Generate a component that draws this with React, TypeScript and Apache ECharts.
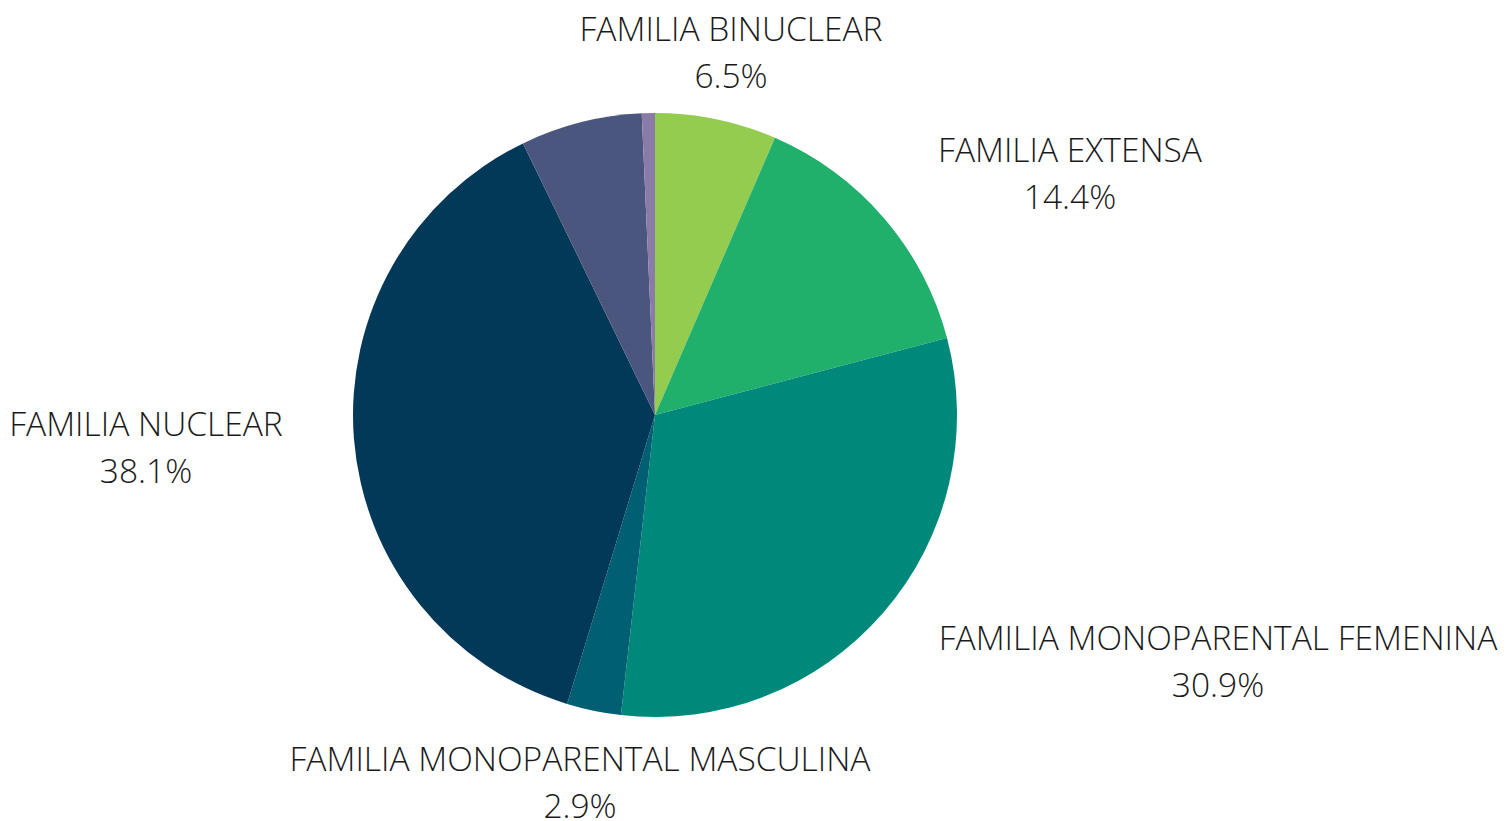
import React, { useEffect, useRef } from "react";
import * as echarts from "echarts";

const categories = [
  "FAMILIA BINUCLEAR",
  "FAMILIA EXTENSA",
  "FAMILIA MONOPARENTAL FEMENINA",
  "FAMILIA MONOPARENTAL MASCULINA",
  "FAMILIA NUCLEAR",
  "OTRO TIPO",
  "SIN INFORMACIÓN",
];
const values = [6.5, 14.4, 30.9, 2.9, 38.1, 6.5, 0.7];
const showLabel = [true, true, true, true, true, false, false];
const colors = ["#94CC50", "#21AF6C", "#00897B", "#005F73", "#033958", "#4A567D", "#8B7BA8"];

// label anchor points (layout only)
const labelAnchors: [number, number][] = [
  [731, 51],
  [1070, 172],
  [1218, 660],
  [580, 781],
  [146, 446],
  [0, 0],
  [0, 0],
];

export default function App() {
  const ref = useRef<HTMLDivElement>(null);
  useEffect(() => {
    if (!ref.current) return;
    const chart = echarts.init(ref.current, null, { renderer: "svg" });
    chart.setOption({
      animation: false,
      backgroundColor: "#ffffff",
      series: [
        {
          type: "pie",
          center: [655, 415],
          radius: [0, 302],
          startAngle: 90,
          clockwise: true,
          avoidLabelOverlap: false,
          itemStyle: { borderWidth: 0 },
          label: {
            show: true,
            formatter: "{b}\n{c}%",
            fontFamily: "Open Sans",
            fontWeight: 300,
            fontSize: 33.5,
            lineHeight: 47,
            color: "#1a1a1a",
            align: "center",
          },
          labelLine: { show: false },
          labelLayout: (params: any) => {
            const p = labelAnchors[params.dataIndex];
            return { x: p[0], y: p[1], align: "center", verticalAlign: "middle" };
          },
          emphasis: { disabled: true },
          data: categories.map((name, i) => ({
            name,
            value: values[i],
            itemStyle: { color: colors[i] },
            label: { show: showLabel[i] },
          })),
        },
      ],
    });
    return () => chart.dispose();
  }, []);
  return (
    <div
      ref={ref}
      style={{ position: "fixed", left: 0, top: 0, width: 1509, height: 821, background: "#fff" }}
    />
  );
}
